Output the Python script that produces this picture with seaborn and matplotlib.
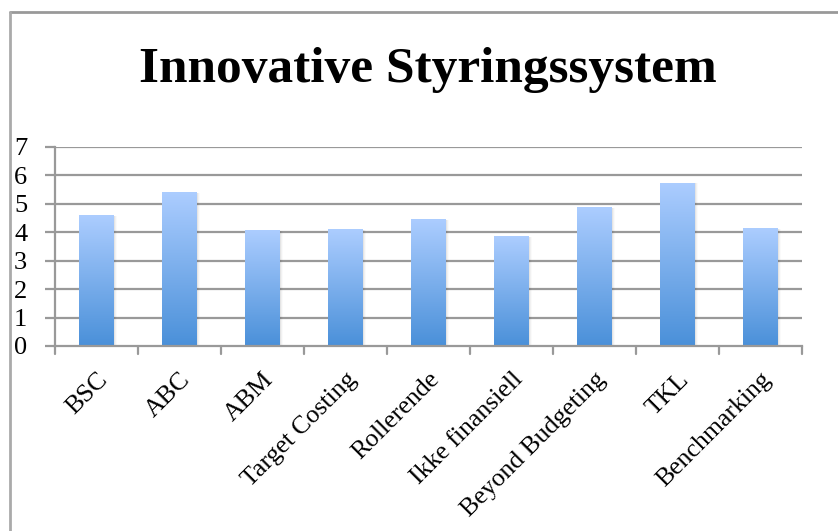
import numpy as np
import pandas as pd
import matplotlib
matplotlib.use("Agg")
import matplotlib.pyplot as plt
import matplotlib.transforms as mtransforms
import seaborn as sns
from matplotlib.colors import LinearSegmentedColormap
from matplotlib.lines import Line2D

categories = ["BSC", "ABC", "ABM", "Target Costing", "Rollerende",
              "Ikke finansiell", "Beyond Budgeting", "TKL", "Benchmarking"]
values = [4.6, 5.4, 4.07, 4.1, 4.45, 3.85, 4.87, 5.74, 4.13]
yticks = [0, 1, 2, 3, 4, 5, 6, 7]
title = "Innovative Styringssystem"

sns.set_theme(style="white")
plt.rcParams['font.family'] = ['Liberation Serif', 'DejaVu Serif']
plt.rcParams['text.color'] = 'black'
plt.rcParams['xtick.color'] = 'black'
plt.rcParams['ytick.color'] = 'black'

W, H = 838, 531
fig = plt.figure(figsize=(W / 100, H / 100), dpi=100)
ax = fig.add_axes([55 / W, 1 - 346 / H, (802 - 55) / W, (346 - 146.7) / H])

df = pd.DataFrame({"cat": categories, "val": values})
sns.barplot(data=df, x="cat", y="val", ax=ax, width=0.41, color="#6aa4e6",
            edgecolor="none", zorder=3)

# gradient fill
cmap = LinearSegmentedColormap.from_list("g", ["#4a90d9", "#accdff"])
grad = np.linspace(0, 1, 256).reshape(-1, 1)
for patch in list(ax.patches):
    x0, y0 = patch.get_x(), patch.get_y()
    w, h = patch.get_width(), patch.get_height()
    for k, a in enumerate([0.05, 0.035, 0.02]):
        d = 0.012 * (k + 1)
        ax.add_patch(plt.Rectangle((x0 + d, y0), w, h - 0.02,
                                   facecolor="#000000", alpha=a,
                                   edgecolor="none", zorder=2.5))
    im = ax.imshow(grad, extent=(x0, x0 + w, y0, y0 + h), origin="lower",
                   cmap=cmap, aspect="auto", zorder=3.1)
    im.set_clip_path(patch)
ax.set_xlim(-0.5, len(categories) - 0.5)
ax.set_ylim(0, 7)

ax.set_yticks(yticks)
ax.set_yticklabels([str(t) for t in yticks], fontsize=19)
for t in yticks[1:]:
    ax.axhline(t, color="#999999", lw=1.6, zorder=1)

ax.set_xticks(range(len(categories)))
ax.set_xticklabels(categories, rotation=45, ha="right", rotation_mode="anchor",
                   fontsize=18.5)
offset = mtransforms.ScaledTranslation(8 / 100, 0, fig.dpi_scale_trans)
for lab in ax.get_xticklabels():
    lab.set_transform(lab.get_transform() + offset)
ax.tick_params(axis="x", length=0, pad=16)
ax.tick_params(axis="y", length=7, width=1.6, color="#999999", left=True,
               direction="out", pad=13, labelcolor="black")

# category boundary ticks
for b in np.arange(-0.5, len(categories), 1.0):
    ax.plot([b, b], [0, -0.28], color="#999999", lw=1.6, clip_on=False,
            zorder=4)

for s in ["top", "right"]:
    ax.spines[s].set_visible(False)
ax.spines["left"].set_color("#999999")
ax.spines["left"].set_linewidth(1.6)
ax.spines["bottom"].set_color("#999999")
ax.spines["bottom"].set_linewidth(1.6)
ax.spines["bottom"].set_zorder(5)
ax.set_xlabel("")
ax.set_ylabel("")

fig.text(428 / W, 1 - 70 / H, title, ha="center", va="center",
         fontsize=37, fontweight="bold", color="black")

# outer chart frame (top and left)
fig.add_artist(Line2D([10 / W, 1], [1 - 12 / H, 1 - 12 / H],
                      transform=fig.transFigure, color="#999999", lw=2))
fig.add_artist(Line2D([10 / W, 10 / W], [0, 1 - 12 / H],
                      transform=fig.transFigure, color="#aaaaaa", lw=2))

fig.savefig("out.png", dpi=100)
